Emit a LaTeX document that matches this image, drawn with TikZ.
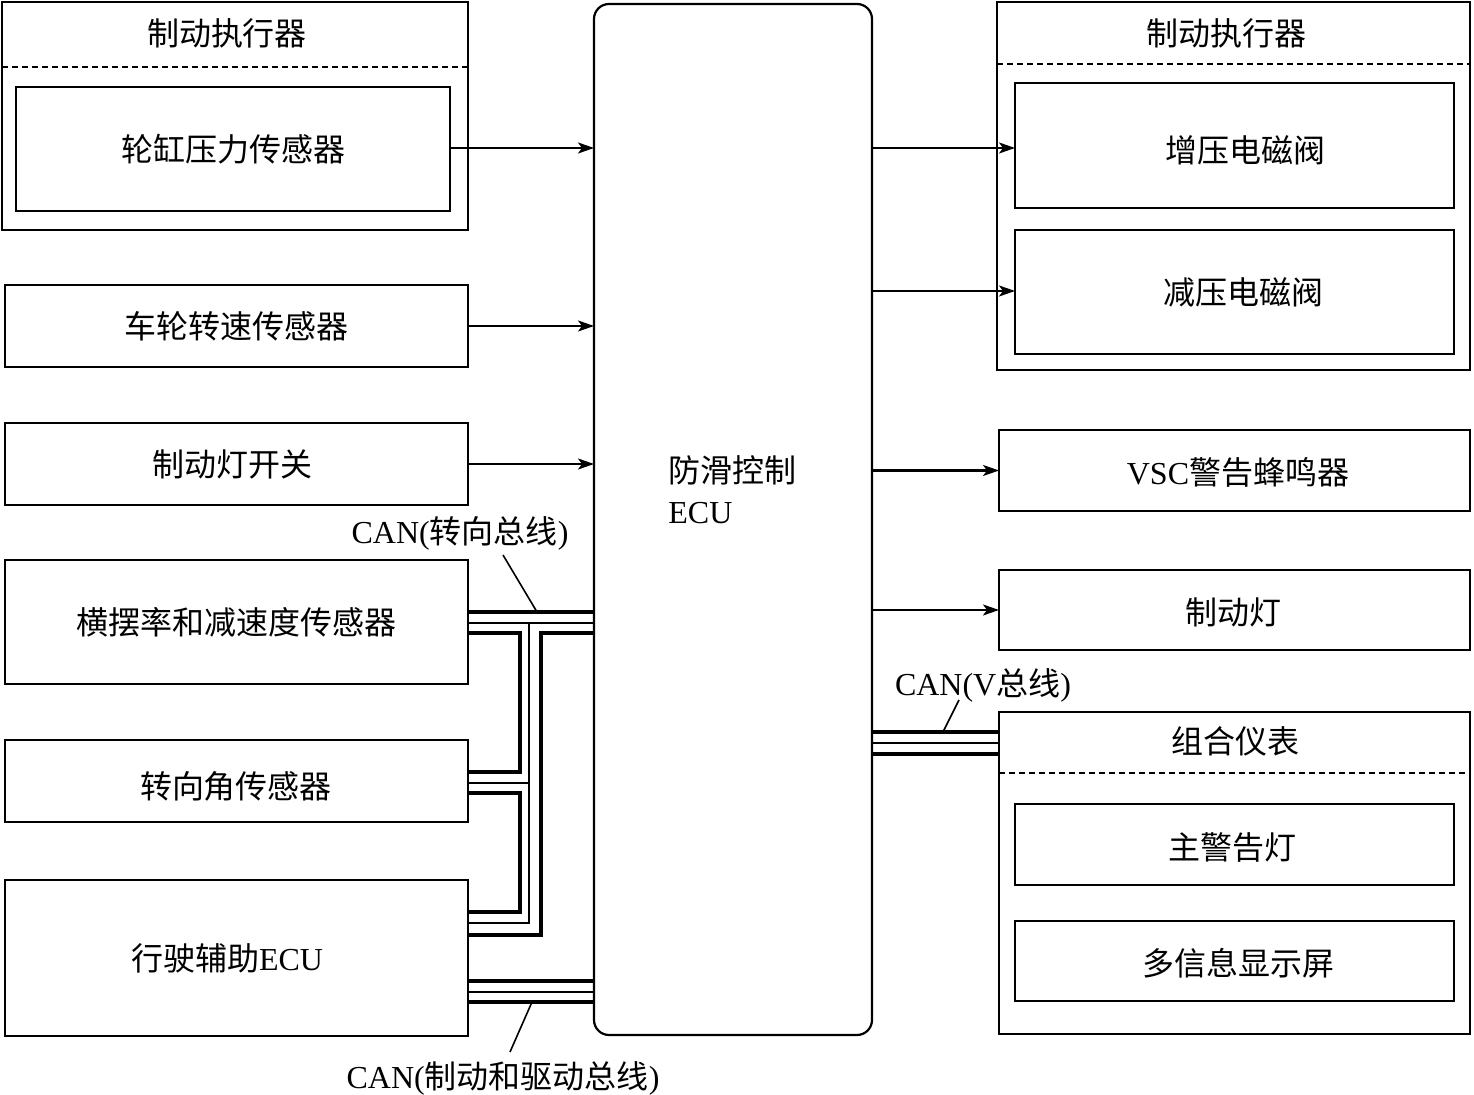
\documentclass[tikz,border=0pt]{standalone}
\usepackage{fontspec}
\setmainfont{Liberation Serif}
\newfontfamily\cjk{Noto Sans CJK SC}
\newfontfamily\latn{Liberation Serif}
\usetikzlibrary{arrows.meta,calc}
\newcommand\mybox[6]{\node[box, minimum width={(#4-#2)*0.5pt}, minimum height={(#5-#3)*0.5pt}] (#1) at ({(#2+#4)/2},{(#3+#5)/2}) {#6};}
\begin{document}
\begin{tikzpicture}[x=0.5pt,y=-0.5pt,
  txt/.style={font=\fontsize{16pt}{19pt}\selectfont\cjk, inner sep=0pt},
  box/.style={draw, line width=1.1pt, inner sep=0pt, outer sep=0pt, txt},
  arr/.style={line width=1.1pt, -{Stealth[length=8pt,width=5.5pt,inset=2pt]}},
  thk/.style={line width=2pt},
  thn/.style={line width=0.8pt},
  lead/.style={line width=0.8pt},
  dsh/.style={dash pattern=on 3pt off 2pt, line width=0.6pt}
]
\useasboundingbox (0,0) rectangle (1474,1095);
% left side
\mybox{lt}{2}{2}{468}{230}{}
\node[txt] (ltt) at (227,33) {制动执行器};
\draw[dsh] (lt.west |- 0,67) -- (lt.east |- 0,67);
\mybox{wcp}{16}{87}{450}{211}{轮缸压力传感器}
\mybox{wss}{5}{285}{468}{367}{车轮转速传感器}
\mybox{bls}{5}{423}{468}{505}{}
\node[txt] (blst) at (232,464) {制动灯开关};
\mybox{yaw}{5}{560}{468}{684}{横摆率和减速度传感器}
\mybox{sas}{5}{740}{468}{822}{}
\node[txt] (sast) at (236,786) {转向角传感器};
\mybox{das}{5}{880}{468}{1036}{}
\node[txt] (dast) at (227,958) {行驶辅助{\latn ECU}};
% ECU
\node[box, rounded corners=7.5pt, minimum width={278*0.5pt}, minimum height={1031*0.5pt}] (ecu) at (733,519.5) {};
\node[txt, anchor=west] (ecut1) at (668,470) {防滑控制};
\node[txt, anchor=west] (ecut2) at (668,513) {\latn ECU};
% right side
\mybox{rt}{997}{2}{1470}{370}{}
\node[txt] (rtt) at (1226,33) {制动执行器};
\draw[dsh] (rt.west |- 0,64) -- (rt.east |- 0,64);
\mybox{inc}{1015}{83}{1454}{208}{}
\node[txt] (inct) at (1245,150) {增压电磁阀};
\mybox{dec}{1015}{230}{1454}{354}{}
\node[txt] (dect) at (1243,292) {减压电磁阀};
\mybox{vsc}{999}{430}{1470}{511}{}
\node[txt] (vsct) at (1238,472) {{\latn VSC}警告蜂鸣器};
\mybox{bl}{999}{570}{1470}{650}{}
\node[txt] (blt) at (1233,612) {制动灯};
\mybox{cm}{999}{712}{1470}{1034}{}
\node[txt] (cmt) at (1235,741) {组合仪表};
\draw[dsh] (cm.west |- 0,773) -- (cm.east |- 0,773);
\mybox{mwl}{1015}{804}{1454}{885}{}
\node[txt] (mwlt) at (1232,847) {主警告灯};
\mybox{mid}{1015}{921}{1454}{1001}{}
\node[txt] (midt) at (1238,963) {多信息显示屏};
% arrows
\draw[arr] (wcp.east |- 0,148) -- (ecu.west |- 0,148);
\draw[arr] (wss.east) -- (wss.east -| ecu.west);
\draw[arr] (bls.east) -- (bls.east -| ecu.west);
\draw[arr] (ecu.east |- 0,148) -- (inc.west |- 0,148);
\draw[arr] (ecu.east |- 0,291) -- (dec.west |- 0,291);
\draw[arr] (ecu.east |- vsc) -- (vsc.west);
\draw[arr] (ecu.east |- bl) -- (bl.west);
% steering bus
\draw[thk] (yaw.east |- 0,612) -- (ecu.west |- 0,612);
\draw[thn] (yaw.east |- 0,623) -- (ecu.west |- 0,623);
\draw[thn] (529,623) -- (529,923) -- (das.east |- 0,923);
\draw[thn] (sas.east |- 0,783) -- (529,783);
\draw[thk] (yaw.east |- 0,633) -- (520,633) -- (520,772) -- (sas.east |- 0,772);
\draw[thk] (sas.east |- 0,793) -- (520,793) -- (520,912) -- (das.east |- 0,912);
\draw[thk] (ecu.west |- 0,633) -- (541,633) -- (541,935) -- (das.east |- 0,935);
% brake/drive bus
\draw[thk] (das.east |- 0,981) -- (ecu.west |- 0,981);
\draw[thn] (das.east |- 0,992) -- (ecu.west |- 0,992);
\draw[thk] (das.east |- 0,1002) -- (ecu.west |- 0,1002);
% V bus
\draw[thk] (ecu.east |- 0,732) -- (cm.west |- 0,732);
\draw[thn] (ecu.east |- 0,743) -- (cm.west |- 0,743);
\draw[thk] (ecu.east |- 0,754) -- (cm.west |- 0,754);
% labels
\node[txt] (can1) at (460,533) {{\latn CAN(}转向总线{\latn )}};
\coordinate (c1a) at (503,555);
\coordinate (c1b) at (537,612);
\draw[lead] (c1a) -- (c1b);
\node[txt] (can2) at (503,1078) {{\latn CAN(}制动和驱动总线{\latn )}};
\coordinate (c2a) at (510,1052);
\coordinate (c2b) at (532,1002);
\draw[lead] (c2a) -- (c2b);
\node[txt] (can3) at (983,685) {{\latn CAN(V}总线{\latn )}};
\coordinate (c3a) at (959,700);
\coordinate (c3b) at (943,732);
\draw[lead] (c3a) -- (c3b);
\end{tikzpicture}
\end{document}
